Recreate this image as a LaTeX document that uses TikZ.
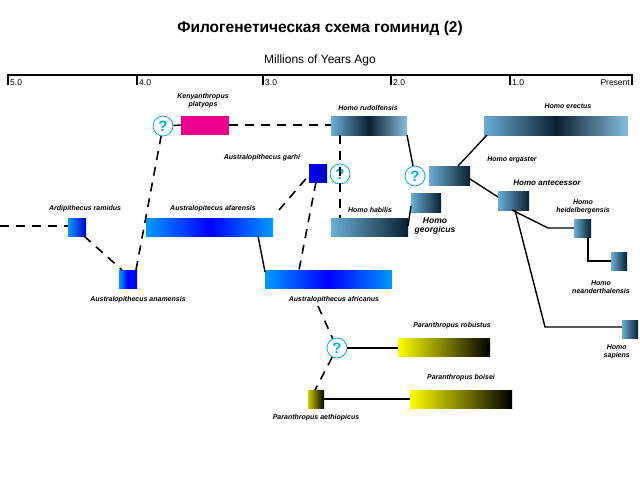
\documentclass[tikz,border=0pt]{standalone}
\usepackage{fontspec}
\setmainfont{Liberation Sans}
\definecolor{hl}{HTML}{6AAED6}
\definecolor{hd}{HTML}{0A2030}
\begin{document}
\begin{tikzpicture}[x=1pt,y=-1pt,
 lab/.style={font=\fontsize{7}{8}\selectfont\bfseries\itshape,align=center,inner sep=0pt},
 ax/.style={font=\fontsize{8.5}{9}\selectfont,anchor=north west,inner sep=0pt},
 q/.style={circle,draw=cyan,thick,minimum size=20pt,inner sep=0pt,text=cyan,font=\bfseries\fontsize{15}{15}\selectfont},
 dsh/.style={line width=1.6pt,dash pattern=on 9pt off 7pt},
 sl/.style={line width=1.4pt},
 hom/.style={left color=hl,right color=hd,shading=axis},
 homm/.style={left color=hl,right color=hl!80!white,middle color=hd,shading=axis},
 aus/.style={left color=cyan!60!blue,right color=cyan!60!blue,middle color=blue,shading=axis},
 par/.style={left color=yellow,right color=black,shading=axis}]
\useasboundingbox (0,0) rectangle (640,480);
\node[font=\bfseries\fontsize{15.5}{17}\selectfont] (title) at (320,28) {Филогенетическая схема гоминид (2)};
\node[font=\fontsize{12}{13}\selectfont] (mya) at (320,60) {Millions of Years Ago};
\draw[line width=1.4pt] (8,85) -- (8,75) -- (632,75) -- (632,85);
\foreach \x in {137,263,391,510} \draw[line width=1.4pt] (\x,75) -- (\x,85);
\node[ax] (t5) at (10,79) {5.0};
\node[ax] (t4) at (139,79) {4.0};
\node[ax] (t3) at (265,79) {3.0};
\node[ax] (t2) at (393,79) {2.0};
\node[ax] (t1) at (512,79) {1.0};
\node[ax,anchor=north east] (tp) at (630,79) {Present};
% boxes
\fill[magenta] (181,116) rectangle (229,135);
\path[homm] (331,116) rectangle (407,135);
\path[homm] (484,116) rectangle (628,135);
\path[hom] (331,218) rectangle (408,236);
\path[hom] (429,166) rectangle (470,185);
\path[hom] (411,193) rectangle (441,212);
\path[hom] (498,191) rectangle (529,210);
\path[hom] (574,219) rectangle (591,237);
\path[hom] (611,252) rectangle (627,270);
\path[hom] (622,320) rectangle (638,338);
\path[aus] (146,218) rectangle (273,236);
\path[aus] (265,270) rectangle (392,288);
\path[left color=cyan!60!blue,right color=blue!80!black,shading=axis] (68,218) rectangle (86,236);
\path[left color=cyan!60!blue,right color=blue,middle color=blue,shading=axis] (119,270) rectangle (137,288);
\path[left color=blue,right color=blue!70!black,shading=axis] (309,164) rectangle (327,182);
\path[par] (398,338) rectangle (490,356);
\path[par] (410,390) rectangle (512,408);
\path[left color=yellow!80!black,right color=black,shading=axis] (308,390) rectangle (324,408);
% named anchors for boxes
\coordinate (ken) at (181,125); \coordinate (kenR) at (229,125);
\coordinate (rudL) at (331,125); \coordinate (rudB) at (340,135); \coordinate (rudR) at (407,135);
\coordinate (habT) at (340,218); \coordinate (habR) at (408,226);
\coordinate (geo) at (411,206);
\coordinate (ergL) at (458,166); \coordinate (ergR) at (470,179);
\coordinate (ereB) at (487,135);
\coordinate (antT) at (498,197); \coordinate (antB) at (512,210); \coordinate (antB2) at (515,210);
\coordinate (heiL) at (574,228); \coordinate (heiB) at (588,237);
\coordinate (neaL) at (611,261); \coordinate (sapL) at (622,327);
\coordinate (ardL) at (68,226); \coordinate (ardB) at (84,236);
\coordinate (anaT) at (122,270); \coordinate (anaT2) at (136,270);
\coordinate (afaR) at (279,210); \coordinate (afaB) at (258,236);
\coordinate (garL) at (310,174); \coordinate (garB) at (316,182);
\coordinate (afrT) at (265,272); \coordinate (afrT2) at (299,270); \coordinate (afrB) at (318,306);
\coordinate (robL) at (398,348); \coordinate (aetT) at (315,390); \coordinate (aetR) at (324,399); \coordinate (boiL) at (410,399);
\coordinate (start) at (0,226);
\coordinate (k1) at (548,228); \coordinate (k2) at (545,327); \coordinate (k3) at (588,261);
% question marks
\node[q] (q1) at (163,126) {?};
\node[q] (q2) at (340,174) {?};
\node[q] (q3) at (415,176) {?};
\node[q] (q4) at (337,348) {?};
% connectors
\draw[dsh] (start) -- (ardL);
\draw[dsh] (ardB) -- (anaT);
\draw[dsh] (anaT2) -- (q1);
\draw[sl] (q1) -- (ken);
\draw[dsh] (kenR) -- (rudL);
\draw[dsh] (rudB) -- (habT);
\draw[sl] (rudR) -- (q3);
\draw[sl] (habR) -- (geo);
\draw[dsh] (afaR) -- (garL);
\draw[sl] (afaB) -- (afrT);
\draw[dsh] (garB) -- (afrT2);
\draw[dsh] (afrB) -- (q4);
\draw[sl] (q4) -- (robL);
\draw[dsh] (q4) -- (aetT);
\draw[sl] (aetR) -- (boiL);
\draw[sl] (ereB) -- (ergL);
\draw[sl] (ergR) -- (antT);
\draw[sl] (antB) -- (k1) -- (heiL);
\draw[sl] (antB2) -- (k2) -- (sapL);
\draw[sl] (heiB) -- (k3) -- (neaL);
% labels
\node[lab] (l1) at (203,101) {Kenyanthropus\\platyops};
\node[lab] (l2) at (368,108) {Homo rudolfensis};
\node[lab] (l3) at (568,106) {Homo erectus};
\node[lab] (l4) at (262,158) {Australopithecus garhi};
\node[lab] (l5) at (512,160) {Homo ergaster};
\node[lab,font=\fontsize{8}{9}\selectfont\bfseries\itshape] (l6) at (547,183) {Homo antecessor};
\node[lab] (l7) at (85,209) {Ardipithecus ramidus};
\node[lab] (l8) at (213,209) {Australopitecus afarensis};
\node[lab] (l9) at (370,210) {Homo habilis};
\node[lab,font=\fontsize{8.5}{9.5}\selectfont\bfseries\itshape] (l10) at (435,226) {Homo\\georgicus};
\node[lab] (l11) at (583,207) {Homo\\heidelbergensis};
\node[lab] (l12) at (138,300) {Australopithecus anamensis};
\node[lab] (l13) at (334,300) {Australopithecus africanus};
\node[lab,anchor=east] (l14) at (630,287) {Homo\\neanderthalensis};
\node[lab] (l15) at (452,326) {Paranthropus robustus};
\node[lab,anchor=east] (l16) at (630,352) {Homo\\sapiens};
\node[lab] (l17) at (461,378) {Paranthropus boisei};
\node[lab] (l18) at (316,418) {Paranthropus aethiopicus};
\end{tikzpicture}
\end{document}
